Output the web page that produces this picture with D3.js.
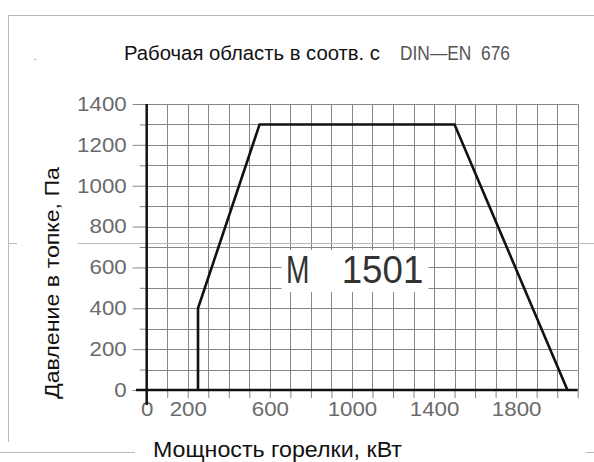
<!DOCTYPE html>
<html>
<head>
<meta charset="utf-8">
<script src="https://cdn.jsdelivr.net/npm/d3@7"></script>
<style>
  html, body { margin: 0; padding: 0; background: #fff; }
  svg { display: block; }
  text { font-family: "Liberation Sans", Arial, sans-serif; }
</style>
</head>
<body>
<svg id="chart" width="594" height="462"></svg>
<script>
// ---- data ----
const titleText = "Рабочая область в соотв. с";
const normText = "DIN\u2014EN  676";
const modelName = "M";
const modelNumber = "1501";
const xAxisTitle = "Мощность горелки, кВт";
const yAxisTitle = "Давление в топке, Па";
const xTickLabels = [0, 200, 600, 1000, 1400, 1800];
const yTickLabels = [0, 200, 400, 600, 800, 1000, 1200, 1400];
const powerKW = [250, 250, 550, 1500, 2050];
const pressurePa = [0, 400, 1300, 1300, 0];

// ---- layout ----
const svg = d3.select("#chart");
const x = d3.scaleLinear().domain([0, 2100]).range([146.7, 577.7]);
const y = d3.scaleLinear().domain([0, 1400]).range([390, 104]);
const gridColor = "#858585";
const frameColor = "#b8b8b8";

// frame / stray drawing lines
const frame = svg.append("g").attr("stroke", frameColor).attr("stroke-width", 1).attr("fill", "none");
frame.append("line").attr("x1", 8).attr("x2", 594).attr("y1", 15.5).attr("y2", 15.5);
frame.append("line").attr("x1", 8.5).attr("x2", 8.5).attr("y1", 15).attr("y2", 442);
frame.append("line").attr("x1", 0).attr("x2", 135).attr("y1", 452.5).attr("y2", 452.5);
frame.append("line").attr("x1", 586).attr("x2", 594).attr("y1", 452.5).attr("y2", 452.5);
frame.append("line").attr("x1", 8).attr("x2", 17).attr("y1", 243.5).attr("y2", 243.5);
svg.append("circle").attr("cx", 35).attr("cy", 59.5).attr("r", 0.8).attr("fill", "#999");

// grid
const grid = svg.append("g").attr("stroke", gridColor).attr("stroke-width", 1);
grid.selectAll(".vg").data(d3.range(100, 2101, 100)).join("line")
  .attr("x1", d => Math.round(x(d)) + 0.5).attr("x2", d => Math.round(x(d)) + 0.5)
  .attr("y1", y(1400)).attr("y2", y(0));
grid.selectAll(".hg").data(d3.range(100, 1401, 100)).join("line")
  .attr("y1", d => Math.round(y(d)) + 0.5).attr("y2", d => Math.round(y(d)) + 0.5)
  .attr("x1", x(0)).attr("x2", x(2100));

// stray long line
svg.append("line").attr("x1", 78).attr("x2", 594).attr("y1", 243.5).attr("y2", 243.5)
  .attr("stroke", frameColor).attr("stroke-width", 1);

// axes via d3
const tickFont = g => g.selectAll("text")
  .attr("font-size", 20).attr("fill", "#6a6a6a")
  .each(function() {
    const t = d3.select(this).text();
    if (t) d3.select(this).attr("textLength", t.length * 12.4).attr("lengthAdjust", "spacingAndGlyphs");
  });

const yMinor = svg.append("g").attr("transform", `translate(${x(0)},0)`)
  .call(d3.axisLeft(y).tickValues(d3.range(100, 1400, 200)).tickSize(7).tickFormat(""));
yMinor.select(".domain").remove();
yMinor.selectAll("line").attr("stroke", gridColor);

const yAxis = svg.append("g").attr("transform", `translate(${x(0)},0)`)
  .call(d3.axisLeft(y).tickValues(yTickLabels).tickSize(14).tickPadding(6).tickFormat(d3.format("d")));
yAxis.select(".domain").remove();
yAxis.selectAll("line").attr("stroke", gridColor);
yAxis.call(tickFont);

const xAxis = svg.append("g").attr("transform", `translate(0,${y(0)})`)
  .call(d3.axisBottom(x).tickValues(d3.range(0, 2101, 100)).tickSize(8).tickPadding(4)
    .tickFormat(d => xTickLabels.includes(d) ? d3.format("d")(d) : ""));
xAxis.select(".domain").remove();
xAxis.selectAll("line").attr("stroke", gridColor);
xAxis.call(tickFont);

// thick axis lines
svg.append("line").attr("x1", x(0)).attr("x2", x(0)).attr("y1", y(1400)).attr("y2", 405)
  .attr("stroke", "#111").attr("stroke-width", 2.5);
svg.append("line").attr("x1", 136).attr("x2", x(2100)).attr("y1", y(0)).attr("y2", y(0))
  .attr("stroke", "#111").attr("stroke-width", 2.5);

// working field
const pts = powerKW.map((p, i) => [p, pressurePa[i]]);
svg.append("path")
  .attr("d", d3.line().x(d => x(d[0])).y(d => y(d[1]))(pts))
  .attr("fill", "none").attr("stroke", "#111").attr("stroke-width", 2.6)
  .attr("stroke-linejoin", "miter");

// model label
svg.append("rect").attr("x", 281.5).attr("y", 250).attr("width", 147).attr("height", 42).attr("fill", "#fff");
svg.append("text").attr("x", 286).attr("y", 282.7).attr("font-size", 38).attr("fill", "#333")
  .attr("textLength", 23.5).attr("lengthAdjust", "spacingAndGlyphs").text(modelName);
svg.append("text").attr("x", 341.7).attr("y", 282.7).attr("font-size", 38).attr("fill", "#333")
  .attr("textLength", 81.6).attr("lengthAdjust", "spacingAndGlyphs").text(modelNumber);

// titles
svg.append("text").attr("x", 124).attr("y", 59.5).attr("font-size", 20.5).attr("fill", "#111")
  .attr("textLength", 256).attr("lengthAdjust", "spacingAndGlyphs").text(titleText);
svg.append("text").attr("x", 400).attr("y", 59.5).attr("font-size", 20).attr("fill", "#555")
  .style("white-space", "pre")
  .attr("textLength", 110).attr("lengthAdjust", "spacingAndGlyphs").text(normText);

svg.append("text").attr("x", 153).attr("y", 457).attr("font-size", 22).attr("fill", "#111")
  .attr("textLength", 249).attr("lengthAdjust", "spacingAndGlyphs").text(xAxisTitle);

svg.append("text").attr("transform", "translate(59,399) rotate(-90)")
  .attr("x", 0).attr("y", 0).attr("font-size", 21).attr("fill", "#111")
  .attr("textLength", 232).attr("lengthAdjust", "spacingAndGlyphs").text(yAxisTitle);
</script>
</body>
</html>
